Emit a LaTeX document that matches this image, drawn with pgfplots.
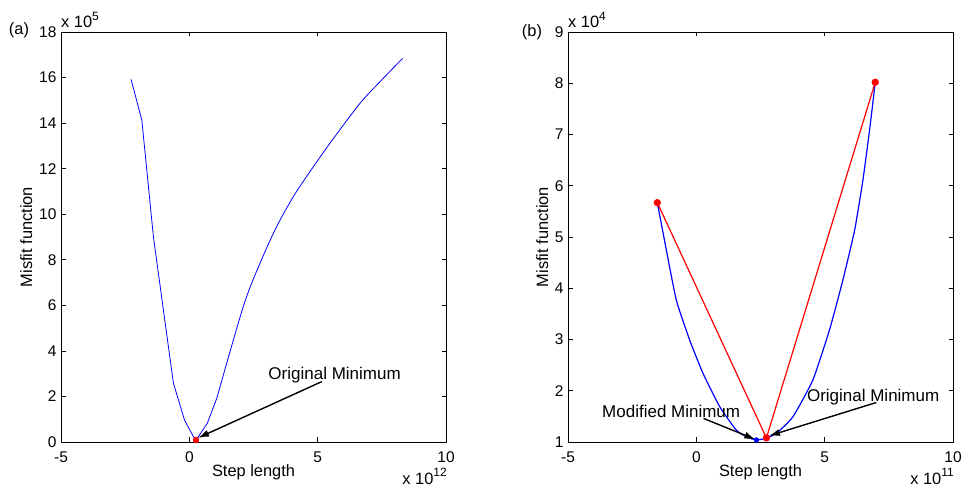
\documentclass[border=0pt]{standalone}
\usepackage{fontspec}
\setmainfont{Liberation Sans}
\usepackage{pgfplots}
\pgfplotsset{compat=1.18}
\usetikzlibrary{arrows.meta}
\newcommand{\txt}{\fontsize{16.4}{19}\selectfont}
\newcommand{\ann}{\fontsize{17}{20}\selectfont}
\newcommand{\tck}{\fontsize{15.5}{18}\selectfont}
\newcommand{\myexp}[1]{\raisebox{7.5pt}{\fontsize{12}{13}\selectfont #1}}
\tikzset{arr/.style={-{Latex[length=11pt,width=7pt]}, line width=1.4pt}}
\pgfplotsset{
  mystyle/.style={
    scale only axis, width=385pt, height=410pt, anchor=south west,
    axis line style={line width=0.9pt},
    every tick/.style={black, line width=0.6pt},
    major tick length=4.5pt, tick align=inside,
    scaled ticks=false,
    /pgf/number format/assume math mode=true,
    ticklabel style={font=\tck},
    xticklabel style={yshift=-6.5pt},
    yticklabel style={xshift=-1pt},
    clip=false,
  },
  bl/.style={color={rgb,1:red,0;green,0;blue,1}},
  rd/.style={color={rgb,1:red,1;green,0;blue,0}},
}
\begin{document}
\begin{tikzpicture}
\path[use as bounding box] (0pt,0pt) rectangle (964pt,486pt);

% ---------- (a) ----------
\begin{axis}[mystyle, at={(61pt,44pt)},
  xmin=-5, xmax=10, ymin=0, ymax=18,
  xtick={-5,0,5,10}, ytick={0,2,...,18}]
\addplot[bl, line width=0.8pt] coordinates {
(-2.27,15.92) (-1.85,14.13) (-1.40,9.01) (-0.62,2.58) (-0.19,0.97)
(0.16,0.23) (0.26,0.08) (0.70,0.82) (1.07,1.92)};
\addplot[bl, line width=0.8pt, smooth, tension=0.5] coordinates {
(1.07,1.92) (2.10,5.94) (2.75,7.84) (3.40,9.45) (4.05,10.77) (4.70,11.87)
(5.52,13.18) (6.65,14.87) (7.43,15.82) (8.31,16.84)};
\addplot[rd, only marks, mark=*, mark size=3pt] coordinates {(0.26,0.09)};
\draw[arr] (axis cs:5.16,2.65) -- (axis cs:0.34,0.18);
\node[font=\ann] at (axis cs:5.66,2.94) {Original Minimum};
\end{axis}

% ---------- (b) ----------
\begin{axis}[mystyle, at={(568pt,44pt)},
  xmin=-5, xmax=10, ymin=1, ymax=9,
  xtick={-5,0,5,10}, ytick={1,2,...,9}]
\addplot[bl, line width=1.2pt, smooth, tension=0.3] coordinates {
(-1.52,5.67) (-1.17,4.75) (-0.78,3.77) (-0.26,2.99) (0.26,2.34) (0.91,1.69)
(1.56,1.23) (2.00,1.09) (2.34,1.04) (2.70,1.07) (3.12,1.17) (3.76,1.49)
(4.54,2.21) (5.19,3.19) (5.71,4.16) (6.17,5.14) (6.49,6.11) (6.75,7.09) (6.97,8.01)};
\addplot[rd, line width=1.2pt, mark=*, mark size=3pt, mark options={solid, fill=red}] coordinates {
(-1.52,5.67) (2.73,1.08) (6.97,8.02)};
\addplot[bl, only marks, mark=*, mark size=2.4pt] coordinates {(2.34,1.04)};
\draw[arr] (axis cs:7.01,1.77) -- (axis cs:2.83,1.12);
\draw[arr] (axis cs:0.28,1.46) -- (axis cs:2.30,1.05);
\node[font=\ann] at (axis cs:6.89,1.88) {Original Minimum};
\node[font=\ann] at (axis cs:-0.98,1.59) {Modified Minimum};
\end{axis}

% ---------- text outside axes ----------
\node[font=\txt] at (19pt,456pt) {(a)};
\node[font=\txt] at (532pt,454pt) {(b)};
\node[font=\txt, anchor=base west, inner sep=0pt] at (61pt,458pt) {x 10\myexp{5}};
\node[font=\txt, anchor=base west, inner sep=0pt] at (568pt,458pt) {x 10\myexp{4}};
\node[font=\txt, anchor=base east, inner sep=0pt] at (447pt,1.5pt) {x 10\myexp{12}};
\node[font=\txt, anchor=base east, inner sep=0pt] at (954pt,1.5pt) {x 10\myexp{11}};
\node[font=\txt, anchor=base, inner sep=0pt] at (253.5pt,9pt) {Step length};
\node[font=\txt, anchor=base, inner sep=0pt] at (760.5pt,9pt) {Step length};
\node[font=\txt, anchor=base, inner sep=0pt, rotate=90] at (32pt,249pt) {Misfit function};
\node[font=\txt, anchor=base, inner sep=0pt, rotate=90] at (548pt,249pt) {Misfit function};
\end{tikzpicture}
\end{document}
